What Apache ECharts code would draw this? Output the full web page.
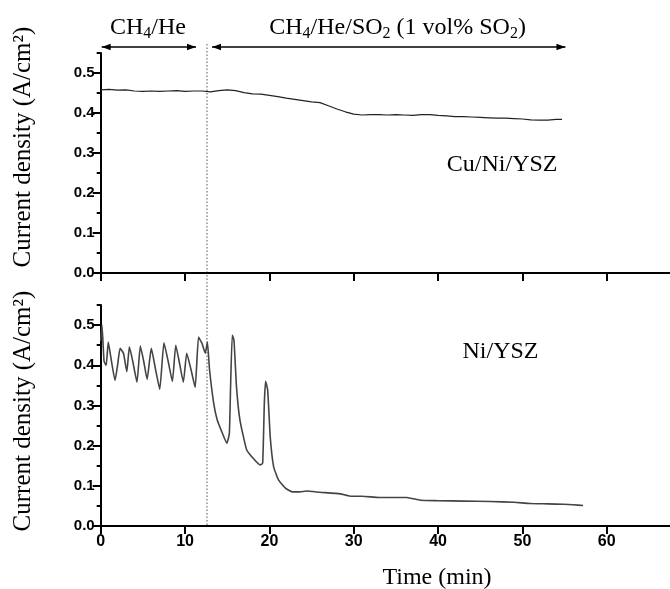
<!DOCTYPE html>
<html><head><meta charset="utf-8">
<script src="https://cdn.jsdelivr.net/npm/echarts@6/dist/echarts.min.js"></script>
<style>html,body{margin:0;padding:0;background:#fff}#c{width:670px;height:589px}</style>
</head><body><div id="c"></div>
<script>
// Cu/Ni/YSZ (top panel)
const cuTime = [0, 1, 2, 3, 4, 5, 6, 7, 8, 9, 10, 11, 12, 13, 14, 15, 16, 17, 18, 19, 20, 21, 22, 23, 24, 25, 26, 27, 28, 29, 30, 31, 32, 33, 34, 35, 36, 37, 38, 39, 40, 41, 42, 43, 44, 45, 46, 47, 48, 49, 50, 51, 52, 53, 54, 54.7];
const cuDensity = [0.458, 0.459, 0.457, 0.458, 0.455, 0.454, 0.455, 0.454, 0.455, 0.456, 0.454, 0.455, 0.455, 0.453, 0.456, 0.458, 0.456, 0.451, 0.448, 0.447, 0.444, 0.441, 0.437, 0.434, 0.431, 0.428, 0.426, 0.418, 0.41, 0.403, 0.397, 0.395, 0.396, 0.396, 0.395, 0.396, 0.395, 0.394, 0.396, 0.396, 0.394, 0.393, 0.391, 0.391, 0.390, 0.389, 0.388, 0.387, 0.387, 0.386, 0.385, 0.383, 0.382, 0.382, 0.384, 0.384];
// Ni/YSZ (bottom panel)
const niTime = [0, 0.15, 0.4, 0.65, 0.9, 1.2, 1.7, 2.0, 2.3, 2.7, 3.1, 3.4, 3.8, 4.3, 4.7, 5.1, 5.5, 6.0, 6.5, 7.0, 7.5, 8.0, 8.5, 8.9, 9.3, 9.8, 10.2, 10.7, 11.2, 11.6, 12.0, 12.4, 12.65, 12.9, 13.4, 13.8, 14.35, 14.95, 15.25, 15.4, 15.6, 15.8, 16.1, 16.5, 17.3, 18.1, 18.9, 19.2, 19.4, 19.55, 19.8, 20.1, 20.5, 21.1, 21.9, 22.7, 23.6, 24.4, 26, 28.4, 29.6, 31, 33, 36.3, 37.9, 40, 43, 46.2, 49, 50.9, 53, 54.9, 56, 57.2];
const niDensity = [0.46, 0.50, 0.41, 0.40, 0.458, 0.42, 0.362, 0.40, 0.442, 0.43, 0.384, 0.446, 0.41, 0.358, 0.448, 0.41, 0.365, 0.442, 0.39, 0.34, 0.456, 0.41, 0.36, 0.45, 0.41, 0.358, 0.43, 0.39, 0.345, 0.47, 0.455, 0.43, 0.458, 0.39, 0.305, 0.265, 0.235, 0.206, 0.23, 0.347, 0.475, 0.463, 0.347, 0.265, 0.19, 0.168, 0.152, 0.156, 0.305, 0.36, 0.338, 0.222, 0.148, 0.114, 0.094, 0.085, 0.085, 0.087, 0.084, 0.08, 0.074, 0.074, 0.071, 0.071, 0.064, 0.063, 0.062, 0.061, 0.059, 0.056, 0.055, 0.054, 0.053, 0.051];

const xTicks = [0, 10, 20, 30, 40, 50, 60];
const yTicks = [0, 0.1, 0.2, 0.3, 0.4, 0.5];
const yMinorTicks = [0.05, 0.15, 0.25, 0.35, 0.45, 0.55];
const gasSwitchTime = 12.6;
const panelLabels = ['Cu/Ni/YSZ', 'Ni/YSZ'];
const yTitle = 'Current density (A/cm\u00B2)';
const xTitle = 'Time (min)';

const serif = '"Liberation Serif","Times New Roman",serif';
const sans = '"Liberation Sans",Arial,sans-serif';

function zip(a, b) { return a.map((v, i) => [v, b[i]]); }

function xAx(gi, showLabel) {
  return {
    gridIndex: gi, type: 'value', min: 0, max: 67.5,
    axisLine: { show: true, onZero: false, lineStyle: { color: '#000', width: 2 } },
    axisTick: { show: true, inside: false, length: 8, customValues: xTicks, lineStyle: { color: '#000', width: 2 } },
    axisLabel: { show: showLabel, customValues: xTicks, color: '#000', fontFamily: sans, fontWeight: 'bold', fontSize: 16, margin: 8 },
    splitLine: { show: false }
  };
}
function yMain(gi) {
  return {
    gridIndex: gi, type: 'value', min: 0, max: 0.55, position: 'left',
    axisLine: { show: true, onZero: false, lineStyle: { color: '#000', width: 2 } },
    axisTick: { show: true, inside: false, length: 8, customValues: yTicks, lineStyle: { color: '#000', width: 2 } },
    axisLabel: { show: true, customValues: yTicks, color: '#000', fontFamily: sans, fontWeight: 'bold', fontSize: 15, margin: 6,
      formatter: v => Number(v).toFixed(1) },
    splitLine: { show: false }
  };
}
function yMinor(gi) {
  return {
    gridIndex: gi, type: 'value', min: 0, max: 0.55, position: 'left', offset: 0,
    axisLine: { show: false },
    axisTick: { show: true, inside: false, length: 4, customValues: yMinorTicks, lineStyle: { color: '#000', width: 2 } },
    axisLabel: { show: false },
    splitLine: { show: false }
  };
}

const chart = echarts.init(document.getElementById('c'), null, { renderer: 'canvas' });
chart.setOption({
  animation: false,
  backgroundColor: '#fff',
  grid: [
    { left: 100.7, right: 0, top: 53, height: 220 },
    { left: 100.7, right: 0, top: 305, height: 221 }
  ],
  xAxis: [xAx(0, false), xAx(1, true)],
  yAxis: [yMain(0), yMinor(0), yMain(1), yMinor(1)],
  series: [
    { type: 'line', xAxisIndex: 0, yAxisIndex: 0, data: zip(cuTime, cuDensity), showSymbol: false,
      lineStyle: { color: '#222', width: 1.2 } },
    { type: 'line', xAxisIndex: 1, yAxisIndex: 2, data: zip(niTime, niDensity), showSymbol: false, smooth: 0.15,
      lineStyle: { color: '#444', width: 1.6 } }
  ]
});

const px = (gi, x, y) => chart.convertToPixel({ gridIndex: gi }, [x, y]);
const X = t => px(0, t, 0)[0];
const arrowY = 47;
const bottomY = px(1, 0, 0)[1];
function arrowHead(x, y, dir) {
  const L = 9, W = 3.2;
  return { type: 'polygon', shape: { points: [[x, y], [x - dir * L, y - W], [x - dir * L, y + W]] },
    style: { fill: '#000' } };
}
const a1s = X(0) + 1, a1e = X(11.3), a2s = X(13.2), a2e = X(55.1);
const subRich = {
  n: { fontFamily: serif, fontSize: 24, color: '#000', lineHeight: 28 },
  s: { fontFamily: serif, fontSize: 16, color: '#000', verticalAlign: 'bottom', lineHeight: 13 }
};
const cu = px(0, 47.6, 0.27);
const ni = px(1, 47.4, 0.433);
const tStyle = (text, size) => ({ text, fontFamily: serif, fontSize: size, fill: '#000', align: 'center', verticalAlign: 'middle' });
chart.setOption({
  graphic: [
    { type: 'line', shape: { x1: X(gasSwitchTime), y1: 44, x2: X(gasSwitchTime), y2: bottomY },
      style: { stroke: '#555', lineWidth: 1, lineDash: [1.5, 2] } },
    { type: 'line', shape: { x1: a1s, y1: arrowY, x2: a1e, y2: arrowY }, style: { stroke: '#000', lineWidth: 1.3 } },
    arrowHead(a1s, arrowY, -1), arrowHead(a1e, arrowY, 1),
    { type: 'line', shape: { x1: a2s, y1: arrowY, x2: a2e, y2: arrowY }, style: { stroke: '#000', lineWidth: 1.3 } },
    arrowHead(a2s, arrowY, -1), arrowHead(a2e, arrowY, 1),
    { type: 'text', x: X(5.6), y: 28, style: { text: '{n|CH}{s|4}{n|/He}', rich: subRich, align: 'center', verticalAlign: 'middle' } },
    { type: 'text', x: X(35.2), y: 28, style: { text: '{n|CH}{s|4}{n|/He/SO}{s|2}{n| (1 vol% SO}{s|2}{n|)}', rich: subRich, align: 'center', verticalAlign: 'middle' } },
    { type: 'text', x: cu[0], y: cu[1], style: tStyle(panelLabels[0], 24) },
    { type: 'text', x: ni[0], y: ni[1], style: tStyle(panelLabels[1], 24) },
    { type: 'text', x: 437, y: 578, style: tStyle(xTitle, 24) },
    { type: 'text', x: 23, y: 147, rotation: Math.PI / 2, style: tStyle(yTitle, 25) },
    { type: 'text', x: 23, y: 411, rotation: Math.PI / 2, style: tStyle(yTitle, 25) }
  ]
});
</script>
</body></html>
